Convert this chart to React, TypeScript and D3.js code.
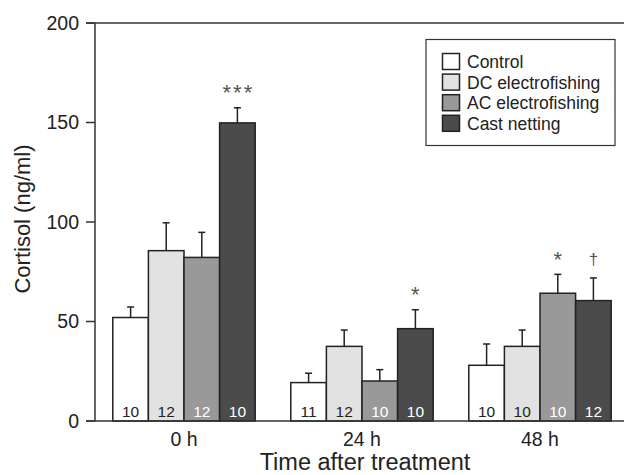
import React from "react";
import * as d3 from "d3";

const groups = ["0 h", "24 h", "48 h"];
const series = ["Control", "DC electrofishing", "AC electrofishing", "Cast netting"];
const colors = ["#ffffff", "#e2e2e2", "#999999", "#4b4b4b"];
const nColors = ["#222222", "#222222", "#ffffff", "#ffffff"];
// means per group (rows) per series (cols)
const means = [
  [52, 85.6, 82.2, 149.8],
  [19.3, 37.5, 20.1, 46.4],
  [28, 37.5, 64.2, 60.5],
];
const errs = [
  [5.3, 14, 12.6, 7.6],
  [4.7, 8.2, 5.7, 9.5],
  [10.7, 8.2, 9.5, 11.4],
];
const ns = [
  ["10", "12", "12", "10"],
  ["11", "12", "10", "10"],
  ["10", "10", "10", "12"],
];
const marks = [
  ["", "", "", "***"],
  ["", "", "", "*"],
  ["", "", "*", "†"],
];
const yTicks = [0, 50, 100, 150, 200];

const FONT = "'Liberation Sans', Arial, Helvetica, sans-serif";

export default function App() {
  const W = 624;
  const H = 475;
  const left = 95;
  const x0 = d3.scaleBand<string>().domain(groups).range([left, 629]).paddingInner(0.2).paddingOuter(0.1);
  const x1 = d3.scaleBand<string>().domain(series).range([0, x0.bandwidth()]).padding(0);
  const y = d3.scaleLinear().domain([0, 200]).range([421, 23]);
  const axisColor = "#333";

  return (
    <svg width={W} height={H} style={{ position: "absolute", left: 0, top: 0 }} fontFamily={FONT}>
      <rect x={0} y={0} width={W} height={H} fill="#fff" />
      {/* bars */}
      {groups.map((g, gi) => (
        <g key={g} transform={`translate(${x0(g)},0)`}>
          {series.map((s, si) => {
            const bx = x1(s)!;
            const bw = x1.bandwidth();
            const v = means[gi][si];
            const e = errs[gi][si];
            const cx = bx + bw / 2;
            const m = marks[gi][si];
            const isDagger = m === "†";
            return (
              <g key={s}>
                <line x1={cx} x2={cx} y1={y(v)} y2={y(v + e)} stroke="#222" strokeWidth={1.5} />
                <line x1={cx - 3.5} x2={cx + 3.5} y1={y(v + e)} y2={y(v + e)} stroke="#222" strokeWidth={1.5} />
                <rect x={bx} y={y(v)} width={bw} height={y(0) - y(v)} fill={colors[si]} stroke="#222" strokeWidth={1.5} />
                <text x={cx} y={416.5} textAnchor="middle" fontSize={15.5} fill={nColors[si]}>
                  {ns[gi][si]}
                </text>
                {m && (
                  <text
                    x={cx + (isDagger ? 0 : 1)}
                    y={y(v + e) - 18}
                    textAnchor="middle"
                    dominantBaseline="central"
                    fontSize={isDagger ? 17 : 22}
                    letterSpacing={isDagger ? 0 : 2}
                    fill="#555"
                    dy={isDagger ? 0 : 3}
                  >
                    {m}
                  </text>
                )}
              </g>
            );
          })}
        </g>
      ))}
      {/* axes */}
      <line x1={left} x2={left} y1={y(200)} y2={y(0)} stroke={axisColor} strokeWidth={1.5} />
      <line x1={86} x2={W} y1={y(200)} y2={y(200)} stroke={axisColor} strokeWidth={1.5} />
      <line x1={86} x2={W} y1={y(0)} y2={y(0)} stroke={axisColor} strokeWidth={1.5} />
      {yTicks.map((t) => (
        <g key={t}>
          <line x1={86} x2={left} y1={y(t)} y2={y(t)} stroke={axisColor} strokeWidth={1.5} />
          <text x={79} y={y(t)} dy="0.35em" textAnchor="end" fontSize={19.5} fill="#222">
            {t}
          </text>
        </g>
      ))}
      {groups.map((g) => (
        <text key={g} x={x0(g)! + x0.bandwidth() / 2} y={446} textAnchor="middle" fontSize={19.5} fill="#222">
          {g}
        </text>
      ))}
      <text x={365} y={470} textAnchor="middle" fontSize={23.5} fill="#222">
        Time after treatment
      </text>
      <text transform="translate(30,219) rotate(-90)" textAnchor="middle" fontSize={22} fill="#222">
        Cortisol (ng/ml)
      </text>
      {/* legend */}
      <rect x={426} y={39.5} width={189} height={106} fill="#fff" stroke="#333" strokeWidth={1.2} />
      {series.map((s, i) => (
        <g key={s}>
          <rect x={442.5} y={53.5 + i * 20.6} width={17} height={16} fill={colors[i]} stroke="#222" strokeWidth={1.5} />
          <text x={467} y={68 + i * 20.6} fontSize={17.5} fill="#222">
            {s}
          </text>
        </g>
      ))}
    </svg>
  );
}
